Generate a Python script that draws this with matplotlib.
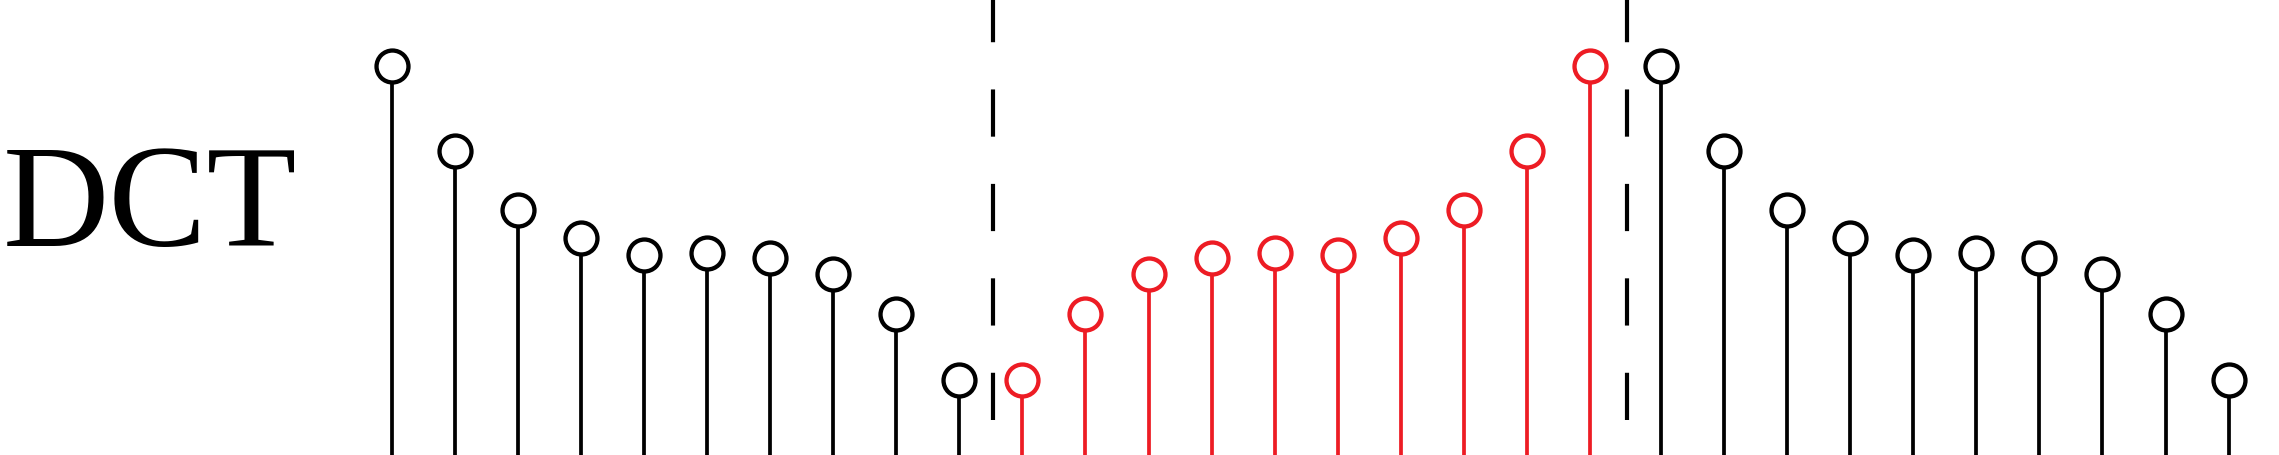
import matplotlib.pyplot as plt
import numpy as np

plt.rcParams['lines.scale_dashes'] = False

# coefficient heights (arbitrary units, 0 = bottom edge)
left_vals = [389, 304, 245, 217, 200, 202, 197, 181, 141, 75]
mid_vals = [75, 141, 181, 197, 202, 200, 217, 245, 304, 389]
right_vals = [389, 304, 245, 217, 200, 202, 197, 181, 141, 75]
label = "DCT"

RED = '#ED1C24'

fig = plt.figure(figsize=(22.79, 4.56), dpi=100)
ax = fig.add_axes([0, 0, 1, 1])

x_left = np.arange(10)
x_mid = np.arange(10) + 10
x_right = np.arange(10) + 20.13

def draw_stems(x, vals, color):
    ax.vlines(x, 0, vals, color=color, lw=2.7, zorder=2)
    ax.plot(x, vals, 'o', ms=23, mfc='white', mec=color, mew=3.1,
            linestyle='None', zorder=3)

draw_stems(x_left, left_vals, 'black')
draw_stems(x_mid, mid_vals, RED)
draw_stems(x_right, right_vals, 'black')

# dashed separators between the periods
for xd in [9.53, 19.59]:
    ax.plot([xd, xd], [35, 480], color='black', lw=3.0,
            dashes=(34, 34), dash_capstyle='butt', zorder=1)

ax.set_xlim(-6.217, 29.93)
ax.set_ylim(0, 456)
ax.axis('off')

fig.text(0.001, 210 / 456, label, fontsize=106,
         family=['Liberation Serif', 'DejaVu Serif'],
         ha='left', va='baseline')

fig.savefig('out.png', dpi=100)
